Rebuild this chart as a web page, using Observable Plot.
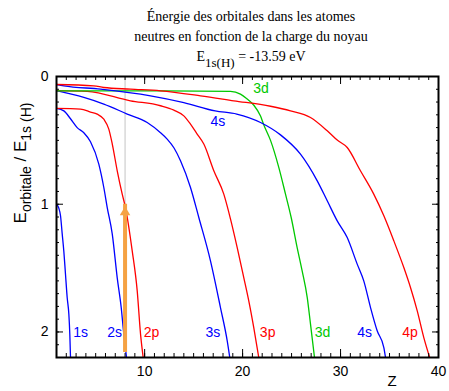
<!DOCTYPE html>
<html>
<head>
<meta charset="utf-8">
<script src="https://cdn.jsdelivr.net/npm/d3@7"></script>
<script src="https://cdn.jsdelivr.net/npm/@observablehq/plot@0.6"></script>
<style>
  body { margin: 0; background: #fff; }
  #wrap { position: relative; width: 449px; height: 391px; overflow: hidden; background: #fff; }
  #chart { position: absolute; left: 0; top: 0; }
  .title { position: absolute; left: 51px; width: 400px; top: 7px; text-align: center;
           font-family: "Liberation Serif", "Times New Roman", serif; font-size: 14px; line-height: 20px; color: #000; }
  .title .sub { font-size: 13px; position: relative; top: 6px; }
  #ylab { position: absolute; left: 21px; top: 163px; transform: translate(-50%, -50%) rotate(-90deg);
          white-space: nowrap; font-family: "Liberation Sans", Arial, sans-serif; font-size: 17px; line-height: 20px; color: #000; }
  #ylab .sub { font-size: 14px; position: relative; top: 5px; }
  #zlab { position: absolute; left: 382px; top: 372px; width: 20px; text-align: center;
          font-family: "Liberation Sans", Arial, sans-serif; font-size: 15px; line-height: 18px; color: #000; }
</style>
</head>
<body>
<div id="wrap">
  <div id="chart"></div>
  <div class="title">Énergie des orbitales dans les atomes<br>neutres en fonction de la charge du noyau<br>E<span class="sub">1s(H)</span> = -13.59 eV</div>
  <div id="ylab">E<span class="sub">orbitale</span> / E<span class="sub">1s (H)</span></div>
  <div id="zlab">Z</div>
</div>
<script>
// Curves: nuclear charge Z and orbital energy ratio E/E1s(H)
const z1s = [1.0, 1.23, 1.41, 1.58, 1.75, 1.92, 2.09, 2.26, 2.36, 2.43];
const e1s = [1.0, 1.03, 1.09, 1.23, 1.37, 1.55, 1.73, 1.86, 2.02, 2.2];

const z2s = [1.0, 1.75, 2.43, 3.11, 3.79, 4.47, 5.32, 5.83, 6.18, 6.69, 7.2, 7.61, 7.87, 8.15];
const e2s = [0.25, 0.269, 0.331, 0.4, 0.44, 0.511, 0.686, 0.869, 1.026, 1.232, 1.576, 1.811, 2.015, 2.2];

const z2p = [1.0, 3.45, 4.47, 5.16, 5.83, 6.34, 6.69, 7.2, 7.71, 8.04, 8.73, 9.24, 9.58, 9.85];
const e2p = [0.25, 0.255, 0.278, 0.295, 0.334, 0.412, 0.527, 0.738, 0.921, 1.026, 1.365, 1.678, 2.017, 2.2];

const z3s = [1.0, 3.79, 5.83, 8.22, 10.26, 11.62, 12.3, 13.0, 13.66, 14.68, 15.53, 16.72, 17.74, 18.43, 18.69];
const e3s = [0.111, 0.164, 0.216, 0.294, 0.36, 0.44, 0.49, 0.56, 0.66, 0.869, 1.104, 1.443, 1.809, 2.07, 2.2];

const z3p = [1.0, 4.13, 8.55, 11.62, 12.98, 14.0, 14.68, 15.36, 16.04, 17.06, 18.08, 18.76, 19.45, 20.12, 20.63, 21.14, 21.65];
const e3p = [0.111, 0.117, 0.19, 0.229, 0.263, 0.308, 0.373, 0.451, 0.529, 0.738, 0.921, 1.114, 1.339, 1.574, 1.756, 1.966, 2.2];

const z3d = [1.0, 11.92, 18.76, 19.78, 20.47, 21.15, 21.83, 22.17, 22.85, 23.7, 24.38, 24.96, 25.57, 26.08, 26.6, 26.93, 27.34];
const e3d = [0.112, 0.112, 0.117, 0.138, 0.177, 0.225, 0.31, 0.38, 0.5, 0.713, 0.921, 1.104, 1.339, 1.522, 1.731, 1.937, 2.2];

const z4s = [1.0, 1.75, 5.49, 10.6, 14.0, 17.2, 19.4, 21.83, 23.87, 25.91, 27.62, 28.64, 29.66, 30.68, 31.7, 32.37, 33.06, 33.74, 34.42, 34.59];
const e4s = [0.0625, 0.073, 0.099, 0.151, 0.204, 0.269, 0.294, 0.36, 0.457, 0.608, 0.817, 0.973, 1.13, 1.261, 1.469, 1.6, 1.809, 1.991, 2.122, 2.2];

const z4p = [1.0, 4.81, 5.83, 8.55, 11.62, 15.7, 19.1, 22.85, 24.89, 26.93, 28.64, 29.66, 30.68, 32.03, 33.39, 34.42, 35.44, 36.46, 37.14, 37.83, 38.5, 39.1];
const e4p = [0.0625, 0.073, 0.086, 0.099, 0.112, 0.151, 0.19, 0.233, 0.269, 0.321, 0.425, 0.498, 0.556, 0.738, 0.921, 1.091, 1.287, 1.496, 1.652, 1.835, 2.044, 2.2];

// Curve labels
const labelName = ["1s", "2s", "2p", "3s", "3p", "3d", "4s", "4p", "3d", "4s"];
const labelZ    = [2.7, 6.18, 9.91, 16.21, 21.76, 27.37, 31.7, 36.29, 21.08, 16.72];
const labelE    = [2.007, 2.007, 2.007, 2.007, 2.007, 2.007, 2.007, 2.007, 0.092, 0.355];

// Oxygen marker (Z = 8): arrow from base to 2p level
const markerZ = [8];
const arrowBase = [2.09];
const arrowTip = [1.0];

// Axis ticks
const xTicks = [10, 20, 30, 40];
const xMinorTicks = d3.range(1, 41);
const yTicks = [0, 1, 2];
const yMinorTicks = d3.range(0, 23).map(i => i / 10);

const orbitalTypes = ["s", "p", "d"];
const orbitalColors = ["#0000ff", "#ff0000", "#00c800"];

const seriesList = [
  ["1s", z1s, e1s], ["2s", z2s, e2s], ["2p", z2p, e2p], ["3s", z3s, e3s],
  ["3p", z3p, e3p], ["3d", z3d, e3d], ["4s", z4s, e4s], ["4p", z4p, e4p]
];
const rows = seriesList.flatMap(([name, zs, es]) =>
  zs.map((z, i) => ({name, type: name.slice(-1), z, e: es[i]})));
const labels = labelName.map((name, i) => ({name, type: name.slice(-1), z: labelZ[i], e: labelE[i]}));
const marker = markerZ.map((z, i) => ({z, base: arrowBase[i], tip: arrowTip[i]}));

const noText = () => "";

const chart = Plot.plot({
  width: 449,
  height: 391,
  marginLeft: 56,
  marginRight: 11,
  marginTop: 76,
  marginBottom: 34,
  style: {fontFamily: '"Liberation Sans", Arial, sans-serif', fontSize: "14px", color: "#000", background: "#fff"},
  x: {domain: [1, 40]},
  y: {domain: [0, 2.2], reverse: true},
  color: {domain: orbitalTypes, range: orbitalColors},
  marks: [
    Plot.ruleX(marker, {x: "z", y1: 0, y2: "base", stroke: "#c4c4c4", strokeWidth: 1}),
    Plot.line(rows, {x: "z", y: "e", z: "name", stroke: "type", strokeWidth: 1.3, curve: "monotone-x", clip: true}),
    Plot.ruleX(marker, {x: "z", y1: "base", y2: "tip", insetTop: 9, stroke: "#f5a243", strokeWidth: 4}),
    Plot.dot(marker, {x: "z", y: "tip", dy: 8, symbol: "triangle", r: 3.9, fill: "#f5a243", stroke: "none"}),
    Plot.text(labels, {x: "z", y: "e", text: "name", fill: "type", textAnchor: "start", fontSize: 14}),
    Plot.axisY({anchor: "left", ticks: yMinorTicks, tickSize: -3, tickFormat: noText, label: null}),
    Plot.axisY({anchor: "left", ticks: yTicks, tickSize: -7, tickFormat: noText, label: null}),
    Plot.axisY({anchor: "left", ticks: yTicks, tickSize: 0, tickPadding: 8, tickFormat: d3.format("d"), label: null}),
    Plot.axisY({anchor: "right", ticks: yMinorTicks, tickSize: -3, tickFormat: noText, label: null}),
    Plot.axisY({anchor: "right", ticks: yTicks, tickSize: -7, tickFormat: noText, label: null}),
    Plot.axisX({anchor: "bottom", ticks: xMinorTicks, tickSize: -4, tickFormat: noText, label: null}),
    Plot.axisX({anchor: "bottom", ticks: xTicks, tickSize: -8, tickFormat: noText, label: null}),
    Plot.axisX({anchor: "bottom", ticks: xTicks, tickSize: 0, tickPadding: 9, tickFormat: d3.format("d"), label: null}),
    Plot.axisX({anchor: "top", ticks: xMinorTicks, tickSize: -3, tickFormat: noText, label: null}),
    Plot.axisX({anchor: "top", ticks: xTicks, tickSize: -7, tickFormat: noText, label: null}),
    Plot.frame({stroke: "#000", strokeWidth: 2})
  ]
});
document.getElementById("chart").appendChild(chart);
</script>
</body>
</html>
